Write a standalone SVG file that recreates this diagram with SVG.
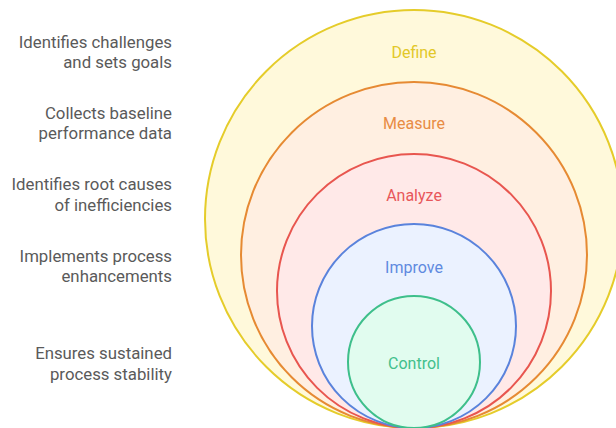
<svg xmlns="http://www.w3.org/2000/svg" width="616" height="428" viewBox="0 0 616 428">
<style>
.lbl{font-family:Roboto,"Liberation Sans",sans-serif;font-size:16px;text-anchor:middle}
.desc{font-family:Roboto,"Liberation Sans",sans-serif;font-size:16.8px;text-anchor:end;fill:#5a5a5a}
circle{stroke-width:2}
</style>
<rect width="616" height="428" fill="#ffffff"/>
<g id="define">
<circle cx="414" cy="219" r="209" fill="#fff9db" stroke="#e5cc2a"/>
<text class="lbl" x="414" y="58" fill="#e2c829">Define</text>
</g>
<g id="measure">
<circle cx="414" cy="255" r="173" fill="#ffefe1" stroke="#e68a33"/>
<text class="lbl" x="414" y="129" fill="#e88c44">Measure</text>
</g>
<g id="analyze">
<circle cx="414" cy="291" r="137" fill="#ffe9e8" stroke="#e8564f"/>
<text class="lbl" x="414" y="201" fill="#e8575a">Analyze</text>
</g>
<g id="improve">
<circle cx="414" cy="326" r="102" fill="#ebf2ff" stroke="#5a83dc"/>
<text class="lbl" x="414" y="273" fill="#5f8ae0">Improve</text>
</g>
<g id="control">
<circle cx="414" cy="362" r="66" fill="#e1fcef" stroke="#3ebf8b"/>
<text class="lbl" x="414" y="369" fill="#42c08c">Control</text>
</g>
<g id="descriptions">
<text class="desc" x="172" y="48">Identifies challenges</text>
<text class="desc" x="172" y="68">and sets goals</text>
<text class="desc" x="172" y="119">Collects baseline</text>
<text class="desc" x="172" y="139">performance data</text>
<text class="desc" x="172" y="190">Identifies root causes</text>
<text class="desc" x="172" y="211">of inefficiencies</text>
<text class="desc" x="172" y="262">Implements process</text>
<text class="desc" x="172" y="282">enhancements</text>
<text class="desc" x="172" y="359">Ensures sustained</text>
<text class="desc" x="172" y="380">process stability</text>
</g>
<g id="connectors"></g>
</svg>
